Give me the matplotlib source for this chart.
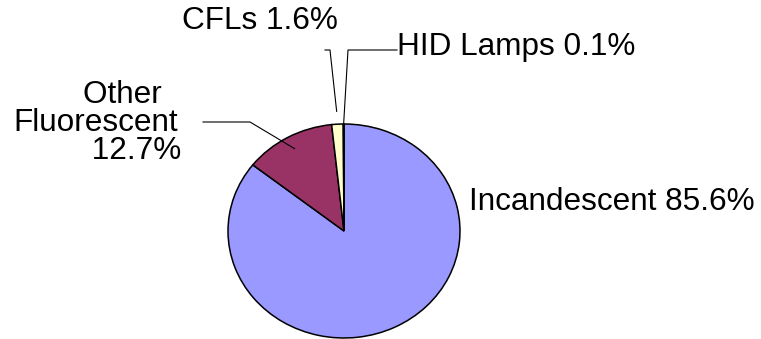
import numpy as np
import matplotlib
matplotlib.use("Agg")
import matplotlib.pyplot as plt

plt.rcParams['font.family'] = ['Liberation Sans', 'DejaVu Sans']

# Lighting energy share by lamp type
categories = ["Incandescent", "Other Fluorescent", "CFLs", "HID Lamps"]
shares = [85.6, 12.7, 1.6, 0.1]
colors = ["#9999FF", "#993366", "#FFFFCC", "#CCFFFF"]

W, H = 761, 339
fig = plt.figure(figsize=(W / 100, H / 100), dpi=100)

# Pie axes (slightly wider than tall, as drawn)
ax = fig.add_axes([228 / W, 1 / H, 232 / W, 214 / H])
wedges, _ = ax.pie(shares, colors=colors, startangle=90, counterclock=False,
                   wedgeprops=dict(edgecolor="black", linewidth=1.1))
ax.set_xlim(-1, 1)
ax.set_ylim(-1, 1)
ax.set_aspect("auto")
ax.axis("off")

# Overlay in pixel coordinates (origin top-left) for labels and leaders
ov = fig.add_axes([0, 0, 1, 1])
ov.set_xlim(0, W)
ov.set_ylim(H, 0)
ov.axis("off")


def pie_point(wedge, r):
    ang = np.deg2rad((wedge.theta1 + wedge.theta2) / 2)
    disp = ax.transData.transform((r * np.cos(ang), r * np.sin(ang)))
    return ov.transData.inverted().transform(disp)


fs = 22.7
lab = {c: f"{v:.1f}%" for c, v in zip(categories, shares)}
lw = 0.8

# Incandescent
ov.text(469, 210, f"Incandescent {lab['Incandescent']}", fontsize=fs,
        ha="left", va="baseline")

# Other Fluorescent (one three-line label, lines offset with spaces)
other_label = ("        Other\n"
               "Fluorescent\n"
               "         " + lab["Other Fluorescent"])
ov.text(13, 80, other_label, fontsize=fs, ha="left", va="top",
        multialignment="left", linespacing=0.92)
px, py = pie_point(wedges[1], 0.88)
ov.plot([203, 250, px], [122, 122, py], color="black", lw=lw)

# CFLs
ov.text(182, 29, f"CFLs {lab['CFLs']}", fontsize=fs, ha="left", va="baseline")
px, py = pie_point(wedges[2], 1.12)
ov.plot([325, 330, px], [50, 50, py], color="black", lw=lw)

# HID Lamps
ov.text(397, 55, f"HID Lamps {lab['HID Lamps']}", fontsize=fs,
        ha="left", va="baseline")
px, py = pie_point(wedges[3], 1.0)
ov.plot([397, 348, px], [50, 50, py], color="black", lw=lw)

fig.savefig("out.png", dpi=100)
